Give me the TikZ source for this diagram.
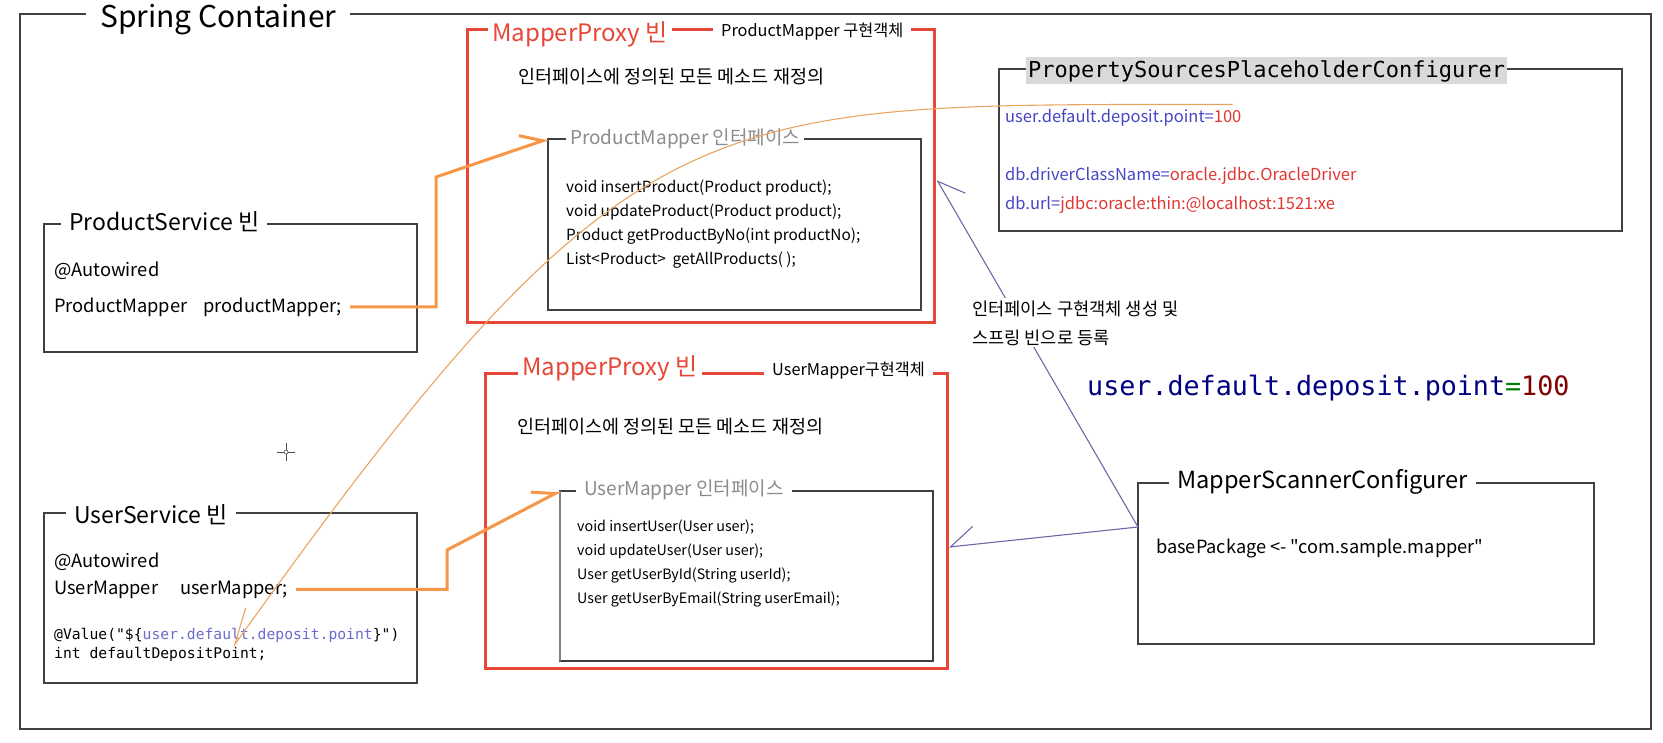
\documentclass[tikz,border=0pt]{standalone}
\usepackage{fontspec}
\setmainfont{Noto Sans CJK KR}
\newfontfamily\plainsans{Noto Sans CJK KR}
\setmonofont{DejaVu Sans Mono}
\usetikzlibrary{arrows.meta}
\definecolor{framegray}{RGB}{64,64,64}
\definecolor{proxyred}{RGB}{232,70,55}
\definecolor{wireorange}{RGB}{247,150,70}
\definecolor{valueorange}{RGB}{232,165,95}
\definecolor{scanblue}{RGB}{105,105,170}
\definecolor{keyblue}{RGB}{70,70,195}
\definecolor{valred}{RGB}{222,55,50}
\definecolor{titlegray}{RGB}{140,140,140}
\definecolor{titlebg}{RGB}{217,217,217}
\definecolor{propnavy}{RGB}{0,0,128}
\definecolor{propgreen}{RGB}{0,128,0}
\definecolor{propmaroon}{RGB}{128,0,0}
\newcommand{\fsize}[1]{\fontsize{#1}{#1}\selectfont}
\begin{document}
\begin{tikzpicture}[x=1pt,y=-1pt,
  box/.style={draw=framegray,line width=1.2pt,inner sep=0pt,outer sep=0pt,anchor=north west},
  proxybox/.style={box,draw=proxyred,line width=3pt},
  ttl/.style={fill=white,inner xsep=8pt,inner ysep=1pt,anchor=base west},
  txt/.style={inner sep=0pt,anchor=base west},
  wire/.style={draw=wireorange,line width=3pt,-{Straight Barb[harpoon,length=21pt,width=25pt]}},
  valuewire/.style={draw=valueorange,line width=1.1pt,-{Straight Barb[harpoon,swap,length=36pt,width=25pt]}},
  scanwire/.style={draw=scanblue,line width=1.1pt,-{Straight Barb[harpoon,swap,length=24pt,width=36pt]}}]
  \useasboundingbox (0,0) rectangle (1663,742);
  % boxes
  \node[box,minimum width=1631pt,minimum height=715pt] (cont) at (20,14) {};
  \node[proxybox,minimum width=467pt,minimum height=293pt] (proxyProd) at (467,29) {};
  \node[box,minimum width=373pt,minimum height=171pt] (pmIface) at (548,139) {};
  \node[proxybox,minimum width=462pt,minimum height=295pt] (proxyUser) at (485,373) {};
  \node[box,minimum width=373pt,minimum height=170pt] (umIface) at (560,491) {};
  \draw[gray,line width=1.2pt] (umIface.north west) -- (umIface.south west);
  \node[box,minimum width=373pt,minimum height=128pt] (prodSvc) at (44,224) {};
  \node[box,minimum width=373pt,minimum height=170pt] (userSvc) at (44,513) {};
  \node[box,minimum width=623pt,minimum height=162pt] (propCfg) at (999,69) {};
  \node[box,minimum width=456pt,minimum height=161pt] (scanner) at (1138,483) {};
  % titles
  \node[ttl,inner xsep=14pt,font=\fsize{30}] (contTitle) at (86,27) {Spring Container};
  \node[ttl,inner xsep=4pt,text=proxyred,font=\fsize{24}] (prodProxyTitle) at (488,41) {MapperProxy 빈};
  \node[ttl,font=\fsize{16.3}] (prodImplTitle) at (713,36) {ProductMapper 구현객체};
  \node[ttl,inner xsep=4pt,text=titlegray,font=\fsize{19}] (pmTitle) at (566,144) {ProductMapper 인터페이스};
  \node[ttl,inner xsep=4pt,text=proxyred,font=\fsize{24}] (userProxyTitle) at (518,375) {MapperProxy 빈};
  \node[ttl,font=\fsize{16.3}] (userImplTitle) at (764,375) {UserMapper구현객체};
  \node[ttl,text=titlegray,font=\fsize{19}] (umTitle) at (576,495) {UserMapper 인터페이스};
  \node[ttl,font=\fsize{23}] (prodSvcTitle) at (61,230) {ProductService 빈};
  \node[ttl,font=\fsize{23}] (userSvcTitle) at (66,523) {UserService 빈};
  \node[ttl,font=\fsize{23.6}] (scanTitle) at (1169,488) {MapperScannerConfigurer};
  \node[anchor=base west,fill=titlebg,inner xsep=2pt,inner ysep=3.5pt,text height=17pt,text depth=3pt,
    font=\ttfamily\fsize{22}] (propTitle) at (1026,77) {PropertySourcesPlaceholderConfigurer};
  % texts
  \node[txt,font=\fsize{18.5}] (prodNote) at (518,83) {인터페이스에 정의된 모든 메소드 재정의};
  \node[txt,align=left,font=\fontsize{15.4}{23.7}\selectfont] (prodMethods) at (566,264)
    {void insertProduct(Product product);\\void updateProduct(Product product);\\
     Product getProductByNo(int productNo);\\List<Product>\ \ getAllProducts( );};
  \node[txt,font=\fsize{18.5}] (userNote) at (517,433) {인터페이스에 정의된 모든 메소드 재정의};
  \node[txt,align=left,font=\fontsize{14.3}{23.7}\selectfont] (userMethods) at (577,603)
    {void insertUser(User user);\\void updateUser(User user);\\
     User getUserById(String userId);\\User getUserByEmail(String userEmail);};
  \node[txt,font=\fsize{18.3}] (prodAuto) at (54,276) {@Autowired};
  \node[txt,font=\fsize{18.3}] (prodField) at (54,312) {ProductMapper\hspace{16pt}productMapper;};
  \node[txt,font=\fsize{18.3}] (userAuto) at (54,567) {@Autowired};
  \node[txt,font=\fsize{18.3}] (userField) at (54,594) {UserMapper\hspace{22pt}userMapper;};
  \node[txt,font=\ttfamily\fsize{14.7}] (valueAnno) at (54,639)
    {@Value("\$\{{\color{keyblue!80}user.default.deposit.point}\}")};
  \node[txt,font=\ttfamily\fsize{14.7}] (valueField) at (54,658) {int defaultDepositPoint;};
  \node[txt,font=\fsize{16.5},text=keyblue] (propUser) at (1005,122) {user.default.deposit.point={\color{valred}100}};
  \node[txt,font=\fsize{16.5},text=keyblue] (propDriver) at (1005,180) {db.driverClassName={\color{valred}oracle.jdbc.OracleDriver}};
  \node[txt,font=\fsize{16.5},text=keyblue] (propUrl) at (1005,209) {db.url={\color{valred}jdbc:oracle:thin:@localhost:1521:xe}};
  \node[txt,font=\ttfamily\fsize{26.7}] (bigProp) at (1087,395)
    {{\color{propnavy}user.default.deposit.point}{\color{propgreen}=}{\color{propmaroon}100}};
  \node[txt,font=\plainsans\fsize{18.2}] (scanPkg) at (1156,553) {basePackage <- "com.sample.mapper"};
  % cursor
  \draw[gray!60!black,line width=0.8pt] (277,452) -- (295,452) (286,443) -- (286,461);
  \draw[gray!60!black,fill=white,line width=0.6pt] (286,452) circle (2pt);
  % connectors
  \draw[wire] ([xshift=8pt]prodField.east) -| (436,177) -- (pmIface.north west);
  \draw[wire] ([xshift=8pt]userField.east) -| (447,550) -- (umIface.north west);
  \coordinate (valueTip) at (233,647);
  \draw[valuewire] ([xshift=-9pt,yshift=4pt]propUser.north east) .. controls (700,105) and (633,87) .. (valueTip);
  \coordinate (scanOut) at ([yshift=-44pt]scanner.north west);
  \draw[scanwire] (scanOut) -- ([xshift=3pt,yshift=-151pt]proxyProd.north east);
  \draw[scanwire] (scanOut) -- ([xshift=2pt,yshift=-174pt]proxyUser.north east);
  \node[anchor=base west,inner sep=2pt,fill=white,align=left,font=\fontsize{17.6}{29}\selectfont] (regNote) at (970,344)
    {인터페이스 구현객체 생성 및\\스프링 빈으로 등록};
\end{tikzpicture}
\end{document}
